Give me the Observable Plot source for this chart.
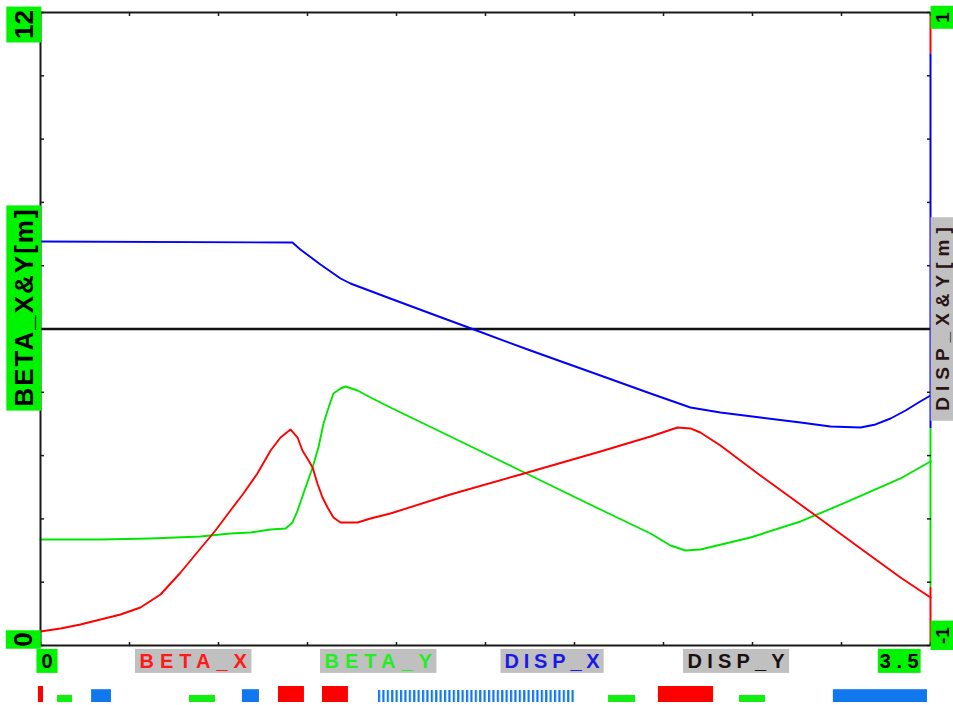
<!DOCTYPE html>
<html><head><meta charset="utf-8">
<script src="https://cdn.jsdelivr.net/npm/d3@7"></script>
<script src="https://cdn.jsdelivr.net/npm/@observablehq/plot@0.6"></script>
<style>
html,body{margin:0;padding:0;background:#fff;overflow:hidden;}
#chart svg{display:block;}
</style></head><body><div id="chart"></div>
<script>
// ---------- data ----------
const betaX_s = [0,0.079,0.157,0.236,0.315,0.393,0.472,0.551,0.629,0.688,0.747,0.798,0.853,0.905,0.944,0.983,1.011,1.030,1.054,1.070,1.089,1.109,1.129,1.152,1.180,1.247,1.298,1.376,1.612,1.888,2.202,2.399,2.505,2.556,2.595,2.674,2.831,3.048,3.225,3.382,3.5];
const betaX   = [0.265,0.322,0.398,0.493,0.588,0.720,0.967,1.384,1.839,2.18,2.559,2.882,3.261,3.697,3.943,4.095,3.943,3.697,3.507,3.374,3.071,2.806,2.616,2.427,2.332,2.332,2.408,2.502,2.863,3.242,3.678,3.962,4.133,4.114,4.038,3.791,3.223,2.464,1.839,1.289,0.910];
const betaY_s = [0,0.236,0.433,0.629,0.747,0.826,0.905,0.964,0.991,1.011,1.034,1.070,1.093,1.113,1.133,1.152,1.180,1.199,1.247,1.298,1.376,1.612,1.927,2.202,2.399,2.478,2.536,2.595,2.792,2.989,3.185,3.382,3.5];
const betaY   = [2.009,2.009,2.028,2.066,2.123,2.142,2.199,2.218,2.332,2.559,2.882,3.374,3.754,4.209,4.512,4.777,4.872,4.910,4.834,4.701,4.512,3.962,3.223,2.578,2.123,1.896,1.801,1.820,2.047,2.351,2.749,3.166,3.488];
const dispX_s = [0,0.991,1.022,1.101,1.180,1.219,1.365,1.534,1.699,1.927,2.202,2.399,2.556,2.674,2.831,2.989,3.107,3.225,3.284,3.343,3.402,3.453,3.5];
const dispX   = [0.2765,0.2733,0.2512,0.2038,0.1596,0.1438,0.0995,0.0490,0,-0.0679,-0.1469,-0.2038,-0.2480,-0.2638,-0.2796,-0.2954,-0.3081,-0.3112,-0.3017,-0.2828,-0.2575,-0.2322,-0.2101];
const dispY_s = [0,3.5];
const dispY   = [0,0];

const seriesNames = ["BETA_X","BETA_Y","DISP_X","DISP_Y"];

// right-edge segments (in BETA units) and the series each one belongs to
const edgeFrom   = [12, 11.22, 4.11, 1.10];
const edgeTo     = [11.22, 4.11, 1.10, 0];
const edgeSeries = ["BETA_X","DISP_X","BETA_Y","BETA_X"];

const xTicks = [0,0.35,0.7,1.05,1.4,1.75,2.1,2.45,2.8,3.15,3.5];
const yTicks = [0,1.2,2.4,3.6,4.8,6,7.2,8.4,9.6,10.8,12];
const xEndLabels = ["0","3.5"];
const yLeftEndLabels = ["0","12"];
const yRightEndLabels = ["-1","1"];
const yLeftTitle = "BETA_X&Y[m]";
const yRightTitle = "DISP_X&Y[m]";

// beamline elements
const elemStart = [-0.008,0.067,0.201,0.586,0.794,0.936,1.109,1.329,2.234,2.430,2.749,3.118];
const elemEnd   = [0.012,0.126,0.279,0.688,0.861,1.038,1.211,2.104,2.340,2.647,2.851,3.488];
const elemKind  = ["bend","quad","sext","quad","sext","bend","bend","stripe","quad","bend","quad","sext"];

// ---------- styles ----------
const seriesColor = {BETA_X:"#ff0000", BETA_Y:"#00e600", DISP_X:"#0000ff", DISP_Y:"#111111"};
const legendText  = {BETA_X:"#ff1a1a", BETA_Y:"#22ee22", DISP_X:"#1a1ae6", DISP_Y:"#1a1010"};
const kindColor = {bend:"#ff0000", quad:"#11ee11", sext:"#1177ee", stripe:"#1177ee"};
const kindHeight = {bend:1, quad:0.44, sext:0.8, stripe:0.75};
const GREEN = "#00f400", GRAY = "#c0c0c0";
const FONT = "Liberation Sans, Arial, sans-serif";

const toLeft = d => (d + 1) * 6; // right axis [-1,1] -> left axis [0,12]
const rows = (s, v) => s.map((x, i) => ({s: x, v: v[i]}));
const edges = edgeFrom.map((f, i) => ({y1: f, y2: edgeTo[i], c: seriesColor[edgeSeries[i]]}));

const txt = (label, o) => Plot.text([label], Object.assign({text: d => d, fontFamily: FONT, fontWeight: "bold", textAnchor: "middle", lineAnchor: "middle"}, o));

const legendLeft = [139, 324, 504, 687];

const main = Plot.plot({
  width: 953, height: 680,
  marginTop: 12, marginBottom: 35, marginLeft: 40, marginRight: 23,
  x: {domain: [0, 3.5], axis: null},
  y: {domain: [0, 12], axis: null},
  color: {type: "identity"},
  style: {overflow: "hidden", background: "white"},
  marks: [
    Plot.line(rows(dispY_s, dispY), {x: "s", y: d => toLeft(d.v), stroke: seriesColor.DISP_Y, strokeWidth: 2.4}),
    Plot.line(rows(dispX_s, dispX), {x: "s", y: d => toLeft(d.v), stroke: seriesColor.DISP_X, strokeWidth: 1.9}),
    Plot.line(rows(betaY_s, betaY), {x: "s", y: "v", stroke: seriesColor.BETA_Y, strokeWidth: 1.9}),
    Plot.line(rows(betaX_s, betaX), {x: "s", y: "v", stroke: seriesColor.BETA_X, strokeWidth: 1.9}),
    Plot.ruleY([0, 12], {stroke: "#1a1a1a", strokeWidth: 2}),
    Plot.ruleX([0], {stroke: "#1a1a1a", strokeWidth: 2}),
    Plot.ruleX(edges, {x: 3.5, y1: "y1", y2: "y2", stroke: "c", strokeWidth: 2}),
    Plot.axisX(xTicks, {anchor: "bottom", tickSize: -3, tickFormat: () => "", label: null, stroke: "#1a1a1a", strokeWidth: 1.5}),
    Plot.axisX(xTicks, {anchor: "top", tickSize: -3, tickFormat: () => "", label: null, stroke: "#1a1a1a", strokeWidth: 1.5}),
    Plot.axisY(yTicks, {anchor: "left", tickSize: -4, tickFormat: () => "", label: null, stroke: "#1a1a1a", strokeWidth: 1.5}),
    Plot.axisY(yTicks, {anchor: "right", tickSize: -4, tickFormat: () => "", label: null, stroke: "#1a1a1a", strokeWidth: 1.5}),
    // axis end labels and titles
    txt(yLeftEndLabels[1], {frameAnchor: "top-left", dx: -16, dy: 12, rotate: -90, fontSize: 26, fill: "black"}),
    txt(yLeftEndLabels[0], {frameAnchor: "bottom-left", dx: -16.5, dy: -6, rotate: -90, fontSize: 26, fill: "black"}),
    txt(yLeftTitle, {frameAnchor: "left", dx: -16, dy: -22, rotate: -90, fontSize: 26, fill: "black"}),
    txt(yRightTitle, {frameAnchor: "right", dx: 12, dy: -13, rotate: -90, fontSize: 19, fill: "#2a1414"}),
    txt(yRightEndLabels[1], {frameAnchor: "top-right", dx: 12, dy: 5, rotate: -90, fontSize: 19, fill: "black"}),
    txt(yRightEndLabels[0], {frameAnchor: "bottom-right", dx: 12, dy: -10, rotate: -90, fontSize: 19, fill: "black"}),
    txt(xEndLabels[0], {frameAnchor: "bottom-left", dx: 6.5, dy: 16, fontSize: 20, fill: "black"}),
    txt(xEndLabels[1], {frameAnchor: "bottom-right", dx: -28.5, dy: 16, fontSize: 20, fill: "black"}),
    ...seriesNames.map((n, i) => txt(n, {frameAnchor: "bottom-left", textAnchor: "start", dx: legendLeft[i] - 40, dy: 16, fontSize: 20, fill: legendText[n]}))
  ]
});

const elems = elemStart.map((a, i) => ({x1: a, x2: elemEnd[i], kind: elemKind[i]}));
const strip = Plot.plot({
  width: 953, height: 25,
  marginTop: 6, marginBottom: 3, marginLeft: 40, marginRight: 23,
  x: {domain: [0, 3.5], axis: null},
  y: {domain: [0, 1], axis: null},
  color: {type: "identity"},
  style: {overflow: "visible", background: "white"},
  marks: [
    Plot.rectY(elems.filter(d => d.kind !== "stripe"), {x1: "x1", x2: "x2", y1: 0, y2: d => kindHeight[d.kind], fill: d => kindColor[d.kind]}),
    Plot.rectY(elems.filter(d => d.kind === "stripe"), {x1: "x1", x2: "x2", y1: 0, y2: d => kindHeight[d.kind], fill: "url(#elemStripes)"})
  ]
});

const host = document.getElementById("chart");
host.appendChild(main);
host.appendChild(strip);

// stripe pattern for the striped element
(function () {
  const ns = "http://www.w3.org/2000/svg";
  const defs = document.createElementNS(ns, "defs");
  const pat = document.createElementNS(ns, "pattern");
  const st = elems.find(d => d.kind === "stripe");
  pat.setAttribute("id", "elemStripes");
  pat.setAttribute("patternUnits", "userSpaceOnUse");
  pat.setAttribute("x", strip.scale("x").apply(st.x1));
  pat.setAttribute("y", 0);
  pat.setAttribute("width", 4.4);
  pat.setAttribute("height", 30);
  const r = document.createElementNS(ns, "rect");
  r.setAttribute("width", 2.2); r.setAttribute("height", 30); r.setAttribute("fill", kindColor.stripe);
  pat.appendChild(r); defs.appendChild(pat);
  strip.insertBefore(defs, strip.firstChild);
})();

// boxes behind labels
const boxSpecs = [
  {t: "12", rot: true, fill: GREEN, padX: 3.5, padY: 2.5, ls: 0},
  {t: "0", rot: true, fill: GREEN, padX: 2, padY: 2.5, ls: 0},
  {t: yLeftTitle, rot: true, fill: GREEN, padX: 4, padY: 2.5, ls: 2},
  {t: yRightTitle, rot: true, fill: GRAY, padX: 10, padY: 1, ls: 6},
  {t: "1", rot: true, fill: GREEN, padX: 6, padY: 1, ls: 0},
  {t: "-1", rot: true, fill: GREEN, padX: 6, padY: 1, ls: 0},
  {t: "0", rot: false, fill: GREEN, padX: 5, padY: 1, ls: 0},
  {t: "3.5", rot: false, fill: GREEN, padX: 2, padY: 1, ls: 5.5},
  {t: "BETA_X", rot: false, fill: GRAY, padX: 4.5, padY: 1, ls: 6},
  {t: "BETA_Y", rot: false, fill: GRAY, padX: 4.5, padY: 1, ls: 6},
  {t: "DISP_X", rot: false, fill: GRAY, padX: 4, padY: 1, ls: 4.8},
  {t: "DISP_Y", rot: false, fill: GRAY, padX: 4.5, padY: 1, ls: 5.2}
];
main.querySelectorAll("text").forEach(el => {
  const tr = el.getAttribute("transform") || "";
  const rot = /rotate/.test(tr);
  const spec = boxSpecs.find(s => s.t === el.textContent && s.rot === rot);
  if (!spec) return;
  el.style.letterSpacing = spec.ls + "px";
  const b = el.getBBox();
  const ns = "http://www.w3.org/2000/svg";
  const r = document.createElementNS(ns, "rect");
  r.setAttribute("x", b.x - spec.padX);
  r.setAttribute("y", b.y - spec.padY);
  r.setAttribute("width", b.width - spec.ls + 2 * spec.padX);
  r.setAttribute("height", b.height + 2 * spec.padY);
  r.setAttribute("fill", spec.fill);
  if (tr) r.setAttribute("transform", tr);
  el.parentNode.insertBefore(r, el);
});
</script></body></html>
